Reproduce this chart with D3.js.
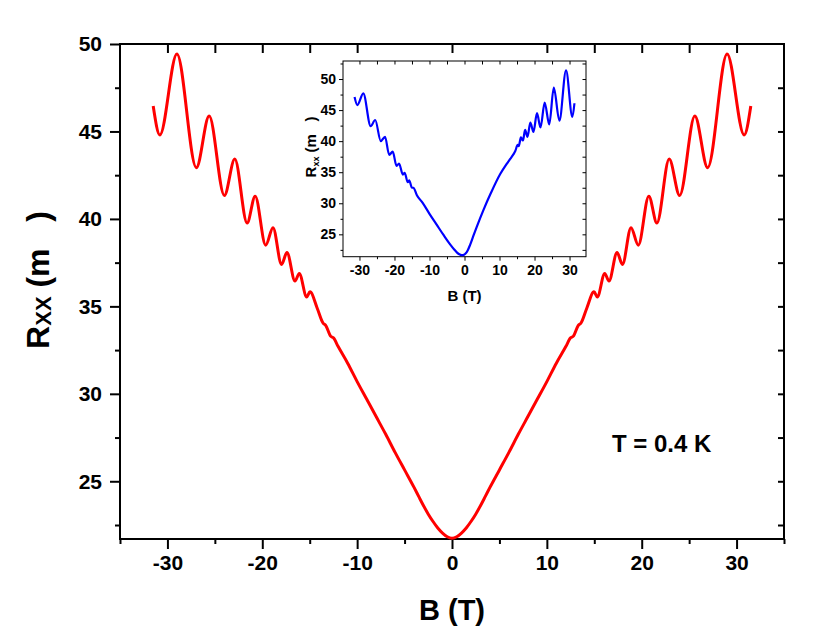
<!DOCTYPE html>
<html>
<head>
<meta charset="utf-8">
<script src="https://cdn.jsdelivr.net/npm/d3@7"></script>
<style>
  html, body { margin: 0; padding: 0; background: #fff; }
  svg { display: block; }
  text { font-family: "Liberation Sans", Arial, Helvetica, sans-serif; white-space: pre; }
</style>
</head>
<body>
<svg id="chart" width="830" height="636"></svg>
<script>
// ---------------- DATA ----------------
// Main panel: R_xx (mOhm) vs B (T), T = 0.4 K (symmetrized)
const mainB = [
  -31.5, -30.8, -29.0, -26.95, -25.6, -24.0, -22.9, -21.6, -20.75, -19.64, -18.87, -17.97, -17.4,
  -16.55, -16.1, -15.32, -14.97, -14.2, -13.6, -13.3, -12.8, -12.5, -12.0, -11.0, -10.0, -9.0, -8.0,
  -7.0, -6.0, -5.0, -4.0, -3.5, -3.0, -2.5, -2.0, -1.5, -1.0, -0.5, 0.0,
  0.5, 1.0, 1.5, 2.0, 2.5, 3.0, 3.5, 4.0, 5.0, 6.0, 7.0, 8.0, 9.0, 10.0, 11.0, 12.0, 12.5, 12.8, 13.3, 13.6,
  14.2, 14.97, 15.32, 16.1, 16.55, 17.4, 17.97, 18.87, 19.64, 20.75, 21.6, 22.9, 24.0, 25.6, 26.95,
  29.0, 30.8, 31.5
];
const mainR = [
  46.45, 44.8, 49.43, 42.93, 45.88, 41.34, 43.42, 39.77, 41.3, 38.5, 39.5, 37.4, 38.08,
  36.45, 36.88, 35.54, 35.83, 34.88, 34.05, 33.9, 33.3, 33.2, 32.7, 31.75, 30.7, 29.7, 28.7,
  27.7, 26.65, 25.65, 24.65, 24.12, 23.6, 23.12, 22.7, 22.33, 22.04, 21.83, 21.75,
  21.83, 22.04, 22.33, 22.7, 23.12, 23.6, 24.12, 24.65, 25.65, 26.65, 27.7, 28.7, 29.7, 30.7, 31.75, 32.7, 33.2, 33.3, 33.9, 34.05,
  34.88, 35.83, 35.54, 36.88, 36.45, 38.08, 37.4, 39.5, 38.5, 41.3, 39.77, 43.42, 41.34, 45.88, 42.93,
  49.43, 44.8, 46.45
];

// Inset panel: raw (unsymmetrized) R_xx vs B
const insetB = [
  -31.4, -30.6, -28.9, -26.8, -25.5, -23.9, -22.7, -21.5, -20.5, -19.4, -18.7, -17.6, -17.1,
  -16.2, -15.8, -15.0, -14.6, -13.6, -12.0, -10.0, -8.0, -6.0, -4.0, -3.0, -2.2, -1.5, -0.8, -0.2,
  0.3, 0.9, 1.6, 2.5, 3.5, 5.4, 7.5, 10.2, 12.0, 13.0, 14.0, 14.5, 15.2, 15.5, 16.1, 16.7, 17.3, 18.0, 18.8, 19.7,
  20.7, 21.7, 22.9, 24.2, 25.5, 27.1, 29.0, 30.8, 31.4
];
const insetR = [
  47.1, 45.8, 47.7, 42.4, 43.4, 40.0, 40.7, 37.8, 38.3, 36.0, 36.4, 34.6, 34.9,
  33.4, 33.7, 32.5, 32.5, 31.3, 30.1, 28.3, 26.6, 24.9, 23.3, 22.6, 22.1, 21.8, 21.65, 21.7,
  21.9, 22.4, 23.3, 24.7, 26.2, 28.9, 31.6, 34.7, 36.3, 37.1, 37.9, 38.4, 39.4, 39.2, 40.6, 40.1, 41.8, 40.7, 43.0, 41.5,
  44.5, 42.2, 46.2, 42.7, 48.6, 43.3, 51.4, 43.9, 46.1
];

// Axes ticks / labels
const mainXTicks = [-30, -20, -10, 0, 10, 20, 30];
const mainXMinor = [-35, -25, -15, -5, 5, 15, 25, 35];
const mainTopTicks = [-30, -25, -20, -15, -10, 0, 10, 15, 20, 25, 30];
const mainYTicks = [25, 30, 35, 40, 45, 50];
const mainYMinor = [22.5, 27.5, 32.5, 37.5, 42.5, 47.5];
const insetXTicks = [-30, -20, -10, 0, 10, 20, 30];
const insetXMinor = [-25, -15, -5, 5, 15, 25];
const insetYTicks = [25, 30, 35, 40, 45, 50];
const insetYMinor = [22.5, 27.5, 32.5, 37.5, 42.5, 47.5, 52.5];
const xTitle = "B (T)";
const annotation = "T = 0.4 K";

// ---------------- DRAW ----------------
const svg = d3.select("#chart");
const fmt = d => String(d);

// ---- main panel ----
const M = { left: 120, right: 784, top: 44, bottom: 539 };
const x = d3.scaleLinear().domain([-35, 35]).range([M.left, M.right]);
const y = d3.scaleLinear().domain([21.7, 50]).range([M.bottom, M.top]);

const gMain = svg.append("g");
const axisStyle = (g, w) => {
  g.select(".domain").remove();
  g.selectAll("line").attr("stroke", "#000").attr("stroke-width", w);
};

// bottom
gMain.append("g").attr("transform", `translate(0,${M.bottom})`)
  .call(d3.axisBottom(x).tickValues(mainXMinor).tickSize(5).tickFormat(""))
  .call(g => axisStyle(g, 2));
gMain.append("g").attr("transform", `translate(0,${M.bottom})`)
  .call(d3.axisBottom(x).tickValues(mainXTicks).tickSize(10).tickPadding(6).tickFormat(fmt))
  .call(g => axisStyle(g, 2))
  .call(g => g.selectAll("text").attr("font-size", 21).attr("font-weight", "bold").attr("fill", "#000"));
// top (inward)
gMain.append("g").attr("transform", `translate(0,${M.top})`)
  .call(d3.axisBottom(x).tickValues(mainTopTicks).tickSize(9).tickFormat(""))
  .call(g => axisStyle(g, 2));
// left
gMain.append("g").attr("transform", `translate(${M.left},0)`)
  .call(d3.axisLeft(y).tickValues(mainYMinor).tickSize(5).tickFormat(""))
  .call(g => axisStyle(g, 2));
gMain.append("g").attr("transform", `translate(${M.left},0)`)
  .call(d3.axisLeft(y).tickValues(mainYTicks).tickSize(10).tickPadding(8).tickFormat(fmt))
  .call(g => axisStyle(g, 2))
  .call(g => g.selectAll("text").attr("font-size", 21).attr("font-weight", "bold").attr("fill", "#000"));
// right (inward)
gMain.append("g").attr("transform", `translate(${M.right},0)`)
  .call(d3.axisRight(y).tickValues(mainYTicks.concat(mainYMinor).filter(v => v < 50)).tickSize(-6).tickFormat(""))
  .call(g => axisStyle(g, 2));
// frame
gMain.append("rect")
  .attr("x", M.left).attr("y", M.top)
  .attr("width", M.right - M.left).attr("height", M.bottom - M.top)
  .attr("fill", "none").attr("stroke", "#000").attr("stroke-width", 2);

// curve
const line = d3.line().x((d, i) => x(mainB[i])).y((d, i) => y(mainR[i])).curve(d3.curveMonotoneX);
gMain.append("path").datum(mainR)
  .attr("d", line)
  .attr("fill", "none").attr("stroke", "#ff0000").attr("stroke-width", 3)
  .attr("stroke-linejoin", "round");

// titles
svg.append("text")
  .attr("x", (M.left + M.right) / 2).attr("y", 620)
  .attr("text-anchor", "middle").attr("font-size", 29).attr("font-weight", "bold")
  .text(xTitle);

const yl = svg.append("text")
  .attr("transform", "translate(49,280) rotate(-90)")
  .attr("text-anchor", "middle").attr("font-weight", "bold").attr("font-size", 32);
yl.append("tspan").text("R");
yl.append("tspan").attr("font-size", 22).attr("dy", 2).text("XX");
yl.append("tspan").attr("dy", -2).text(" (m   )");

svg.append("text")
  .attr("x", 612).attr("y", 452)
  .attr("font-size", 24).attr("font-weight", "bold")
  .text(annotation);

// ---- inset ----
const I = { left: 343, right: 586, top: 61, bottom: 256.7 };
const xi = d3.scaleLinear().domain([-34.7, 34.7]).range([I.left, I.right]);
const yi = d3.scaleLinear().domain([21.4, 52.9]).range([I.bottom, I.top]);
const gIn = svg.append("g");
gIn.append("rect")
  .attr("x", I.left).attr("y", I.top)
  .attr("width", I.right - I.left).attr("height", I.bottom - I.top)
  .attr("fill", "#fff");

gIn.append("g").attr("transform", `translate(0,${I.bottom})`)
  .call(d3.axisBottom(xi).tickValues(insetXMinor).tickSize(2.5).tickFormat(""))
  .call(g => axisStyle(g, 1));
gIn.append("g").attr("transform", `translate(0,${I.bottom})`)
  .call(d3.axisBottom(xi).tickValues(insetXTicks).tickSize(4).tickPadding(4).tickFormat(fmt))
  .call(g => axisStyle(g, 1))
  .call(g => g.selectAll("text").attr("font-size", 14).attr("font-weight", "bold").attr("fill", "#000"));
gIn.append("g").attr("transform", `translate(0,${I.top})`)
  .call(d3.axisBottom(xi).tickValues(insetXTicks.concat(insetXMinor)).tickSize(3.5).tickFormat(""))
  .call(g => axisStyle(g, 1));
gIn.append("g").attr("transform", `translate(${I.left},0)`)
  .call(d3.axisLeft(yi).tickValues(insetYMinor).tickSize(2.5).tickFormat(""))
  .call(g => axisStyle(g, 1));
gIn.append("g").attr("transform", `translate(${I.left},0)`)
  .call(d3.axisLeft(yi).tickValues(insetYTicks).tickSize(4).tickPadding(3).tickFormat(fmt))
  .call(g => axisStyle(g, 1))
  .call(g => g.selectAll("text").attr("font-size", 14).attr("font-weight", "bold").attr("fill", "#000"));
gIn.append("g").attr("transform", `translate(${I.right},0)`)
  .call(d3.axisRight(yi).tickValues(insetYTicks.concat(insetYMinor)).tickSize(-3.5).tickFormat(""))
  .call(g => axisStyle(g, 1));
gIn.append("rect")
  .attr("x", I.left).attr("y", I.top)
  .attr("width", I.right - I.left).attr("height", I.bottom - I.top)
  .attr("fill", "none").attr("stroke", "#000").attr("stroke-width", 1);

const lineI = d3.line().x((d, i) => xi(insetB[i])).y((d, i) => yi(insetR[i])).curve(d3.curveMonotoneX);
gIn.append("path").datum(insetR)
  .attr("d", lineI)
  .attr("fill", "none").attr("stroke", "#0000ff").attr("stroke-width", 2.2)
  .attr("stroke-linejoin", "round");

svg.append("text")
  .attr("x", (I.left + I.right) / 2).attr("y", 301)
  .attr("text-anchor", "middle").attr("font-size", 15).attr("font-weight", "bold")
  .text(xTitle);

const yli = svg.append("text")
  .attr("transform", "translate(316,147) rotate(-90)")
  .attr("text-anchor", "middle").attr("font-weight", "bold").attr("font-size", 15);
yli.append("tspan").text("R");
yli.append("tspan").attr("font-size", 9).attr("dy", 3).text("xx");
yli.append("tspan").attr("dy", -3).text(" (m   )");
</script>
</body>
</html>
